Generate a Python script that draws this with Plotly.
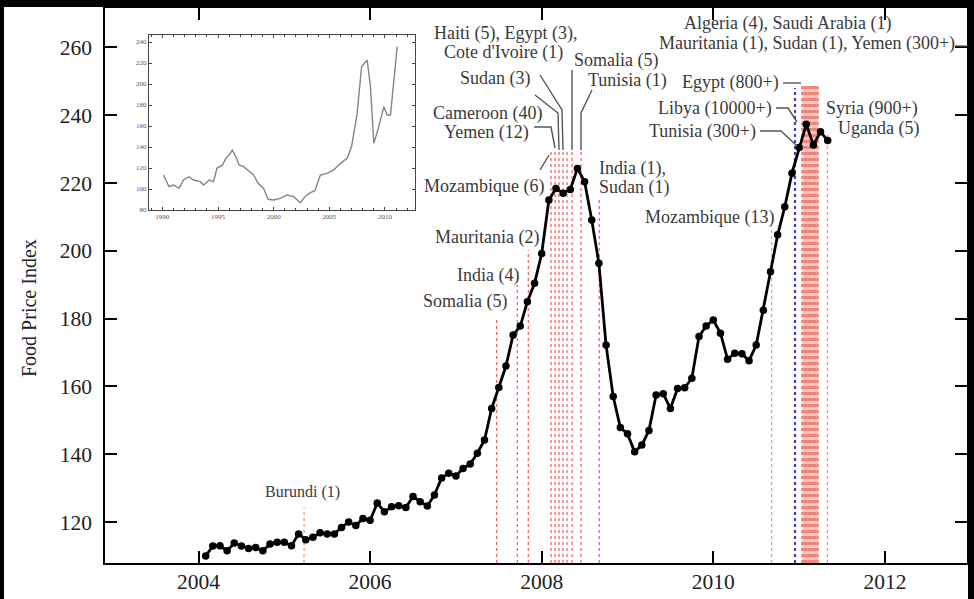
import plotly.graph_objects as go

# ---------------- data ----------------
# Monthly Food Price Index, Feb 2004 .. May 2011
series_start_year = 2004
series_start_month = 2
food_index = [
    110.0, 112.9, 113.0, 111.5, 113.8, 112.9, 112.2, 112.5, 111.5, 113.5, 114.0,          # 2004 Feb-Dec
    114.0, 113.0, 116.5, 114.8, 115.5, 116.8, 116.5, 116.5, 118.4, 120.0, 119.0, 121.0,   # 2005
    120.5, 125.6, 123.0, 124.5, 124.8, 124.3, 127.5, 126.0, 124.7, 128.0, 133.0, 134.4,   # 2006
    133.6, 135.8, 137.1, 140.3, 144.2, 153.5, 159.7, 166.0, 175.2, 177.8, 185.0, 190.4,   # 2007
    199.2, 215.0, 218.4, 217.0, 218.1, 224.3, 220.4, 209.1, 196.3, 172.2, 157.0, 147.9,   # 2008
    146.0, 140.7, 142.7, 147.0, 157.5, 157.8, 153.5, 159.4, 159.6, 162.4, 174.7, 177.8,   # 2009
    179.6, 175.7, 168.0, 169.8, 169.6, 167.6, 172.2, 182.5, 193.8, 204.7, 213.0, 222.9,   # 2010
    230.5, 237.3, 231.2, 235.1, 232.5,                                                    # 2011
]

# Inset: long-run index 1990-2011
inset_years = [1990.1, 1990.6, 1991.0, 1991.5, 1991.9, 1992.4, 1992.8, 1993.4, 1993.7, 1994.2,
               1994.6, 1994.9, 1995.4, 1995.7, 1996.0, 1996.3, 1996.6, 1996.9, 1997.3, 1997.7,
               1998.2, 1998.6, 1999.1, 1999.5, 2000.0, 2000.6, 2001.2, 2001.8, 2002.4, 2002.8,
               2003.3, 2003.7, 2004.2, 2004.8, 2005.4, 2006.0, 2006.6, 2007.0, 2007.5, 2007.9,
               2008.4, 2008.7, 2009.0, 2009.4, 2009.9, 2010.2, 2010.5, 2011.1]
inset_values = [113.3, 102.2, 103.8, 100.6, 108.6, 111.7, 108.6, 107.0, 103.8, 108.6,
                107.0, 119.7, 122.9, 129.2, 132.4, 137.1, 130.8, 122.9, 121.3, 118.1,
                113.3, 105.4, 100.6, 90.2, 89.5, 91.1, 94.3, 92.7, 87.0, 92.7,
                96.5, 98.4, 113.3, 114.9, 118.1, 124.4, 129.2, 140.3, 172.0, 216.5,
                222.9, 197.4, 143.5, 157.8, 178.4, 170.5, 170.5, 235.5]

# Food riot dates (decimal years)
riot_dates_2005_2008 = [2005.23, 2007.475, 2007.716, 2007.844, 2008.108, 2008.155, 2008.201,
                        2008.248, 2008.295, 2008.353, 2008.458, 2008.671]
riot_dates_2010_2011 = [2010.68, 2011.03, 2011.045, 2011.06, 2011.075, 2011.09, 2011.105,
                        2011.12, 2011.135, 2011.15, 2011.165, 2011.18, 2011.195, 2011.21,
                        2011.224, 2011.33]
report_date = 2010.952

label_texts = ["Haiti (5), Egypt (3),", "Cote d'Ivoire (1)", "Sudan (3)", "Cameroon (40)",
               "Yemen (12)", "Mozambique (6)", "Somalia (5)", "Tunisia (1)", "India (1),",
               "Sudan (1)", "Mauritania (2)", "India (4)", "Somalia (5)", "Burundi (1)",
               "Mozambique (13)", "Algeria (4), Saudi Arabia (1)",
               "Mauritania (1), Sudan (1), Yemen (300+)", "Oman (2), Morocco (5)",
               "Iraq (29), Bahrain (31)", "Egypt (800+)", "Libya (10000+)", "Tunisia (300+)",
               "Syria (900+)", "Uganda (5)"]

y_ticks = [120, 140, 160, 180, 200, 220, 240, 260]
x_ticks = [2004, 2006, 2008, 2010, 2012]
inset_x_ticks = [1990, 1995, 2000, 2005, 2010]
inset_y_ticks = [80, 100, 120, 140, 160, 180, 200, 220, 240]

# ---------------- layout geometry ----------------
W, H = 974, 599
L, R, T, B = 105, 967, 8, 563
X_RANGE = [2002.910, 2012.957]
Y_RANGE = [107.91, 271.62]
FONT = "Liberation Serif"


def dx(px):
    return X_RANGE[0] + (px - L) / (R - L) * (X_RANGE[1] - X_RANGE[0])


def dy(py):
    return Y_RANGE[0] + (B - py) / (B - T) * (Y_RANGE[1] - Y_RANGE[0])


def pxp(px):
    return (px - L) / (R - L)


def pyp(py):
    return (B - py) / (B - T)


times = [series_start_year + (series_start_month - 1 + i) / 12 for i in range(len(food_index))]

fig = go.Figure()
fig.add_trace(go.Scatter(x=times, y=food_index, mode="lines+markers",
                         line=dict(color="black", width=2.8),
                         marker=dict(color="black", size=7.5), showlegend=False,
                         cliponaxis=False))
fig.add_trace(go.Scatter(x=inset_years, y=inset_values, mode="lines",
                         line=dict(color="#858585", width=1.4), xaxis="x2", yaxis="y2",
                         showlegend=False))

shapes = []
# riot line top heights (pixel rows in the layout)
tops_a = [508, 318, 285, 250, 150, 150, 150, 150, 150, 150, 150, 200]
tops_b = [225] + [86] * 14 + [135]
red = "rgba(225,70,70,0.8)"
for t, top in zip(riot_dates_2005_2008, tops_a):
    col = "rgba(215,150,110,0.9)" if t < 2006 else red
    shapes.append(dict(type="line", xref="x", yref="y", x0=t, x1=t, y0=Y_RANGE[0], y1=dy(top),
                       line=dict(color=col, width=1.3, dash="dot"), layer="below"))
cluster = riot_dates_2010_2011[1:-1]
shapes.append(dict(type="rect", xref="x", yref="y", x0=min(cluster), x1=max(cluster),
                   y0=Y_RANGE[0], y1=dy(86), fillcolor="rgba(244,160,140,0.6)",
                   line=dict(width=0), layer="below"))
for t, top in zip(riot_dates_2010_2011, tops_b):
    shapes.append(dict(type="line", xref="x", yref="y", x0=t, x1=t, y0=Y_RANGE[0], y1=dy(top),
                       line=dict(color="rgba(225,80,70,0.6)", width=1.2, dash="dot"),
                       layer="below"))
shapes.append(dict(type="line", xref="x", yref="y", x0=report_date, x1=report_date,
                   y0=Y_RANGE[0], y1=dy(88), line=dict(color="#3a4a9a", width=2.2, dash="dot"),
                   layer="below"))

# leader lines (pixel paths)
leaders = [
    [(540, 170), (549, 155)],
    [(534, 127), (551, 127), (555, 148)],
    [(535, 95), (558, 113), (559, 150)],
    [(540, 75), (562, 110), (563, 150)],
    [(572, 70), (572, 150)],
    [(592, 90), (581, 113), (581, 150)],
    [(783, 83), (801, 83)],
    [(776, 108), (788, 108), (797, 122)],
    [(760, 131), (781, 131), (797, 146)],
    [(955, 46), (966, 46)],
]
for pts in leaders:
    path = "M " + " L ".join(f"{dx(a):.5f},{dy(b):.4f}" for a, b in pts)
    shapes.append(dict(type="path", xref="x", yref="y", path=path,
                       line=dict(color="#555555", width=1.4), layer="above"))

# black image borders
for x0, x1, y0, y1 in [(0, 974, 0, 7), (968, 974, 0, 599), (0, 4, 0, 599)]:
    shapes.append(dict(type="rect", xref="paper", yref="paper", x0=pxp(x0), x1=pxp(x1),
                       y0=pyp(y1), y1=pyp(y0), fillcolor="black", line=dict(width=0),
                       layer="above"))

# label placements: (x px, y px, anchor)
label_pos = [(505, 33, "center"), (503, 52, "center"), (532, 78, "right"), (543, 113, "right"),
             (530, 132, "right"), (545, 186, "right"), (573, 60, "left"), (587, 80, "left"),
             (598, 168, "left"), (598, 187, "left"), (540, 237, "right"), (520, 275, "right"),
             (508, 301, "right"), (302, 492, "center"), (775, 217, "right"), (787, 23, "center"),
             (807, 43, "center"), (968, 62, "right"), (968, 82, "right"), (780, 82, "right"),
             (773, 108, "right"), (757, 131, "right"), (825, 108, "left"), (837, 128, "left")]

annotations = []
for txt, (px, py, anc) in zip(label_texts, label_pos):
    size = 16 if txt.startswith("Burundi") else 18
    annotations.append(dict(x=dx(px), y=dy(py), xref="x", yref="y", text=txt, showarrow=False,
                            xanchor=anc, yanchor="middle", borderpad=0,
                            font=dict(family=FONT, size=size, color="#3a3a3a")))
annotations.append(dict(x=pxp(29), y=pyp(308), xref="paper", yref="paper",
                        text="Food Price Index", showarrow=False, textangle=-90,
                        xanchor="center", yanchor="middle",
                        font=dict(family=FONT, size=20, color="#222222")))

axis_common = dict(showgrid=False, zeroline=False, showline=True, linecolor="black",
                   linewidth=1.5, mirror="ticks", ticks="inside", ticklen=12, tickwidth=1.5,
                   tickcolor="black", tickfont=dict(family=FONT, size=21.5, color="#222222"))

fig.update_layout(
    width=W, height=H,
    margin=dict(l=L, r=W - R, t=T, b=H - B, autoexpand=False),
    paper_bgcolor="white", plot_bgcolor="white",
    xaxis=dict(range=X_RANGE, tickvals=x_ticks, ticklabelstandoff=-2, **axis_common),
    yaxis=dict(range=Y_RANGE, tickvals=y_ticks, ticklabelstandoff=7, **axis_common),
    xaxis2=dict(domain=[pxp(149), pxp(415)], anchor="y2", range=[1988.8, 2012.7],
                tickvals=inset_x_ticks, showgrid=False, zeroline=False, showline=True,
                linecolor="#444444", linewidth=1, mirror="ticks", ticks="inside", ticklen=3,
                tickcolor="#444444", minor=dict(dtick=1, ticks="inside", ticklen=2, tickcolor="#444444"),
                tickfont=dict(family=FONT, size=7, color="#555555")),
    yaxis2=dict(domain=[pyp(210), pyp(35)], anchor="x2", range=[80, 246.7],
                tickvals=inset_y_ticks, showgrid=False, zeroline=False, showline=True,
                linecolor="#444444", linewidth=1, mirror="ticks", ticks="inside", ticklen=3,
                tickcolor="#444444", tickfont=dict(family=FONT, size=7, color="#555555")),
    shapes=shapes,
    annotations=annotations,
)

fig.write_html("out.html", config={"displayModeBar": False})

# remove the browser's default page margin so the figure sits at the window origin
with open("out.html", encoding="utf-8") as f:
    html = f.read()
html = html.replace("<head>", "<head><style>html,body{margin:0;padding:0;overflow:hidden}</style>", 1)
with open("out.html", "w", encoding="utf-8") as f:
    f.write(html)
